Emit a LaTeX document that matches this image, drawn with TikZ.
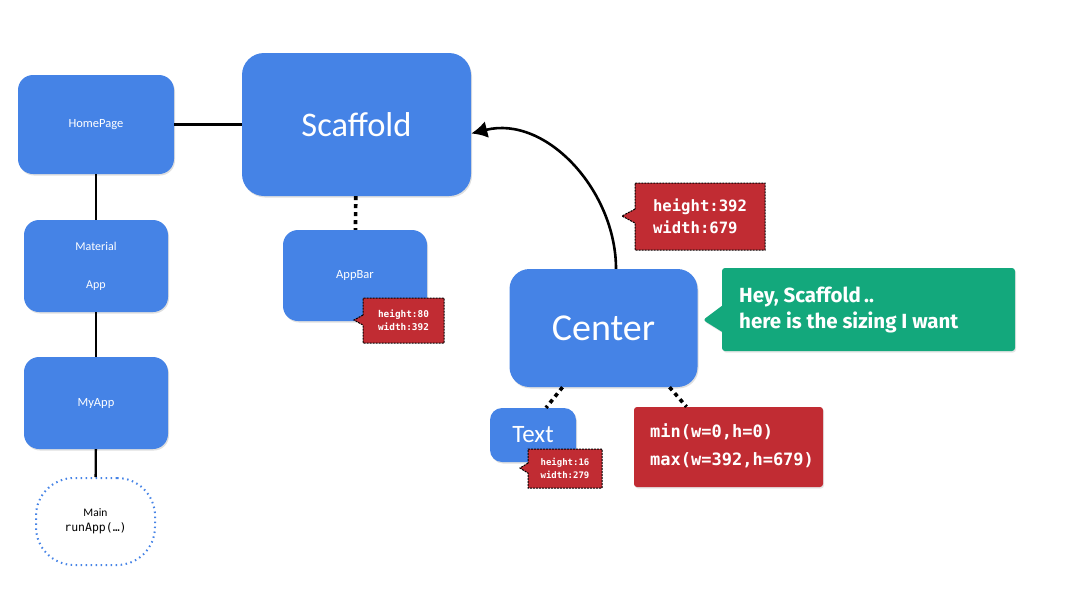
\documentclass[tikz,border=0pt]{standalone}
\usepackage{fontspec}
\setmainfont{Carlito}
\newfontfamily\monof{DejaVu Sans Mono}
\newfontfamily\greenf{Fira Sans}
\usetikzlibrary{shapes.callouts,arrows.meta,shadows}
\definecolor{flblue}{RGB}{69,131,230}
\definecolor{flred}{RGB}{193,44,51}
\definecolor{flgreen}{RGB}{19,168,124}
\tikzset{
  bluebox/.style={fill=flblue, rounded corners=15pt, text=white, inner sep=0pt, align=center,
    drop shadow={opacity=0.25, shadow xshift=1pt, shadow yshift=-1.5pt}},
  solidlink/.style={draw=black, line width=2.4pt},
  dotlink/.style={draw=black, line width=3.6pt, dash pattern=on 4pt off 4pt},
  redcall/.style={rectangle callout, fill=flred, draw=black, line width=1pt,
    dash pattern=on 2pt off 1pt, text=white, inner sep=0pt, align=left,
    callout pointer width=14pt},
}
\begin{document}
\begin{tikzpicture}[x=1pt,y=-1pt]
\useasboundingbox (0,0) rectangle (1080,608);
% blue nodes
\node[bluebox, minimum width=156pt, minimum height=99pt, font=\fontsize{12.5}{14}\selectfont] (hp) at (96,124.5) {HomePage};
\node[bluebox, rounded corners=22pt, minimum width=229pt, minimum height=143pt, font=\fontsize{34.5}{38}\selectfont] (sc) at (356.5,124.5) {Scaffold};
\node[bluebox, minimum width=144pt, minimum height=92pt, font=\fontsize{12}{13}\selectfont] (ma) at (96,266) {Material\\[25pt]App};
\node[bluebox, minimum width=144pt, minimum height=91pt, font=\fontsize{12.5}{14}\selectfont] (ab) at (355,275.5) {AppBar};
\node[bluebox, minimum width=144pt, minimum height=92pt, font=\fontsize{12.5}{14}\selectfont] (my) at (96,403) {MyApp};
\node[draw=flblue, line width=2pt, dash pattern=on 1.5pt off 3.5pt, rounded corners=38pt,
  minimum width=119pt, minimum height=87pt, inner sep=0pt, align=center, font=\fontsize{11.5}{15}\selectfont] (mn) at (95.5,521.5)
  {Main\\{\monof runApp(\ldots)}};
\node[bluebox, rounded corners=20pt, minimum width=188pt, minimum height=118pt, font=\fontsize{38}{42}\selectfont] (ce) at (603.5,328) {Center};
\node[bluebox, rounded corners=12pt, minimum width=86pt, minimum height=54pt, font=\fontsize{25}{28}\selectfont] (tx) at (533,435) {\raisebox{2pt}{Text}};
% min/max box
\node[fill=flred, rounded corners=3pt, minimum width=189pt, minimum height=80pt, inner sep=0pt,
  drop shadow={opacity=0.2, shadow xshift=1pt, shadow yshift=-1.5pt}] (mm) at (728.5,447) {};
\node[text=white, align=left, anchor=west, inner sep=0pt, font=\monof\bfseries\fontsize{17}{28}\selectfont] (mmt) at (650,446)
  {min(w=0,h=0)\\max(w=392,h=679)};
% connectors
\draw[solidlink] (hp) -- (sc);
\draw[solidlink] (hp) -- (ma);
\draw[solidlink] (ma) -- (my);
\draw[solidlink] (my) -- (mn);
\draw[dotlink] (sc) -- (ab);
\draw[dotlink] ([xshift=-41pt]ce.south) -- ([xshift=13pt]tx.north);
\draw[dotlink] ([xshift=66pt]ce.south) -- ([xshift=-42pt]mm.north);
\draw[line width=2.6pt, -{Latex[length=16pt,width=17pt]}] ([xshift=12.5pt]ce.north) to[out=90,in=14] ([yshift=-9pt]sc.east);
% callouts
\node[redcall, minimum width=130pt, minimum height=67pt, callout absolute pointer={(622,216)},
  font=\monof\bfseries\fontsize{15.6}{22}\selectfont] (c1) at (700,216.5) {height:392\\width:679};
\node[rectangle callout, fill=flgreen, rounded corners=3pt, inner sep=0pt, minimum width=293pt, minimum height=83pt,
  callout absolute pointer={(703,320)}, callout pointer width=26pt,
  drop shadow={opacity=0.2, shadow xshift=1pt, shadow yshift=-1.5pt}] (gr) at (868.5,309.5) {};
\node[text=white, anchor=west, align=left, inner sep=0pt, font=\greenf\bfseries\fontsize{20.5}{26}\selectfont] (grt) at (739,310)
  {Hey, Scaffold\,..\\here is the sizing I want};
\node[redcall, minimum width=81pt, minimum height=45pt, callout absolute pointer={(354,320)}, callout pointer width=10pt,
  font=\monof\bfseries\fontsize{9.4}{13}\selectfont] (c2) at (403.5,320.5) {height:80\\width:392};
\node[redcall, minimum width=74pt, minimum height=39pt, callout absolute pointer={(520,468)}, callout pointer width=10pt,
  font=\monof\bfseries\fontsize{9}{13}\selectfont] (c3) at (565,468.5) {height:16\\width:279};
\end{tikzpicture}
\end{document}
